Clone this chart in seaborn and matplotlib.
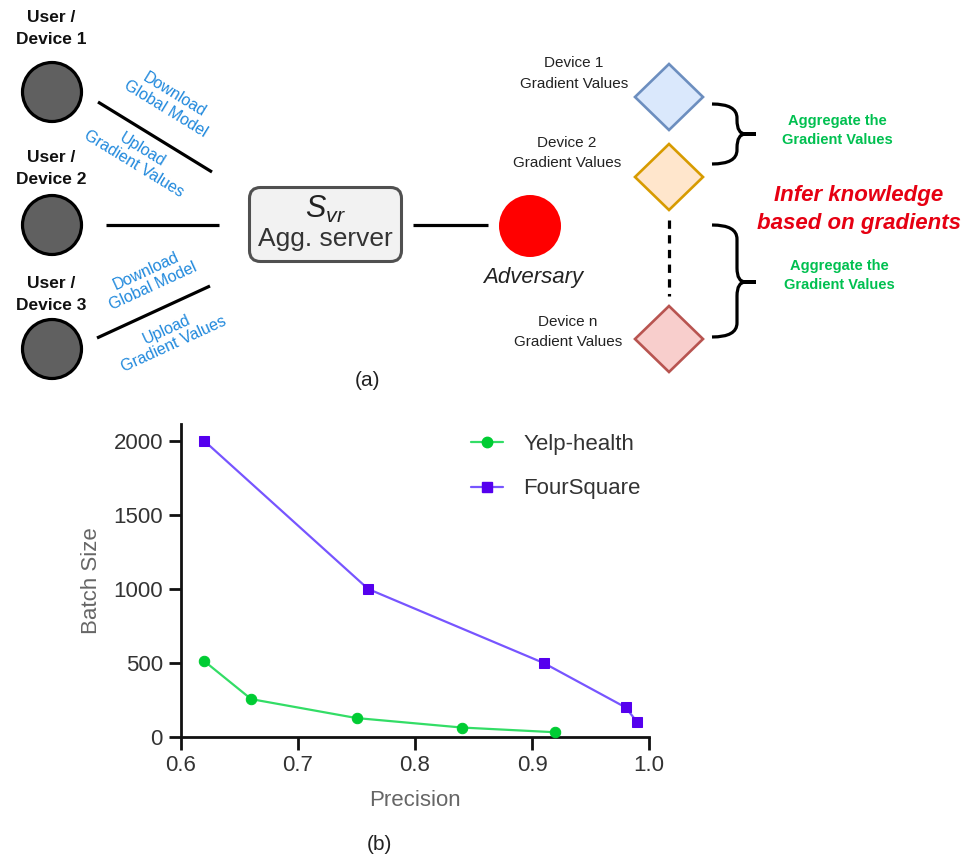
import matplotlib
matplotlib.use("Agg")
import matplotlib.pyplot as plt
import seaborn as sns
import pandas as pd
from matplotlib.patches import Circle, FancyBboxPatch, Polygon, PathPatch
from matplotlib.path import Path
from matplotlib.lines import Line2D

# ---------------- data ----------------
yelp_precision = [0.62, 0.66, 0.75, 0.84, 0.92]
yelp_batch = [512, 256, 128, 64, 32]
four_precision = [0.62, 0.76, 0.91, 0.98, 0.99]
four_batch = [2000, 1000, 500, 200, 100]
series_names = ["Yelp-health", "FourSquare"]
x_ticks = [0.6, 0.7, 0.8, 0.9, 1.0]
y_ticks = [0, 500, 1000, 1500, 2000]
x_label = "Precision"
y_label = "Batch Size"

sns.set_style("ticks")
plt.rcParams['font.family'] = ['Liberation Sans', 'DejaVu Sans']
plt.rcParams['mathtext.fontset'] = 'custom'
plt.rcParams['mathtext.rm'] = 'Liberation Sans'
plt.rcParams['mathtext.it'] = 'Liberation Sans:italic'

W, H = 967, 858
fig = plt.figure(figsize=(W / 100, H / 100), dpi=100)
fig.patch.set_facecolor("white")

# ---------------- diagram (a) in pixel coordinates ----------------
ax0 = fig.add_axes([0, 0, 1, 1])
ax0.set_xlim(0, W)
ax0.set_ylim(H, 0)
ax0.axis("off")

BLUE = "#1f88dc"
GREEN = "#00c050"
RED = "#e60012"


def two_lines(x, y1, y2, s1, s2, **kw):
    ax0.text(x, y1, s1, ha="center", va="center", **kw)
    ax0.text(x, y2, s2, ha="center", va="center", **kw)


# user devices
for cy, (y1, y2), lab in [(92, (18, 40), "1"), (225, (157, 180), "2"), (349, (283, 305), "3")]:
    ax0.add_patch(Circle((52, cy), 29.5, facecolor="#606060", edgecolor="black", lw=2.3))
    two_lines(51, y1, y2, "User /", "Device " + lab, fontsize=12.5, fontweight="bold", color="#111111")

# connection lines
ax0.plot([98, 212], [102, 172], color="black", lw=2.3, solid_capstyle="butt")
ax0.plot([106, 219], [225, 225], color="black", lw=2.3, solid_capstyle="butt")
ax0.plot([97, 210], [338, 286], color="black", lw=2.3, solid_capstyle="butt")
ax0.plot([413, 488], [225, 225], color="black", lw=2.3, solid_capstyle="butt")

# blue rotated labels
ax0.text(170, 102, "Download\nGlobal Model", rotation=-31.5, rotation_mode="anchor",
         ha="center", va="center", color=BLUE, fontsize=11.5, linespacing=1.15)
ax0.text(138, 157, "Upload\nGradient Values", rotation=-31.5, rotation_mode="anchor",
         ha="center", va="center", color=BLUE, fontsize=11.5, linespacing=1.15)
ax0.text(150, 279, "Download\nGlobal Model", rotation=24.7, rotation_mode="anchor",
         ha="center", va="center", color=BLUE, fontsize=11.5, linespacing=1.15)
ax0.text(170, 337, "Upload\nGradient Values", rotation=24.7, rotation_mode="anchor",
         ha="center", va="center", color=BLUE, fontsize=11.5, linespacing=1.15)

# aggregation server
ax0.add_patch(FancyBboxPatch((249.5, 187.5), 152, 74,
                             boxstyle="round,pad=0,rounding_size=11",
                             facecolor="#f2f2f2", edgecolor="#505050", lw=2.2))
ax0.text(325, 209, r"$S_{vr}$", ha="center", va="center", fontsize=22, color="#222222")
ax0.text(325, 239, "Agg. server", ha="center", va="center", fontsize=19, color="#333333")

# adversary
ax0.add_patch(Circle((530, 226), 31, facecolor="#ff0000", edgecolor="none"))
ax0.text(533, 278, "Adversary", ha="center", va="center", fontsize=16, style="italic", color="#222222")

# gradient diamonds
def diamond(cx, cy, fc, ec):
    ax0.add_patch(Polygon([(cx, cy - 33), (cx + 34, cy), (cx, cy + 33), (cx - 34, cy)],
                          closed=True, facecolor=fc, edgecolor=ec, lw=1.9, joinstyle="miter"))


diamond(669, 97, "#dae8fc", "#6c8ebf")
diamond(669, 177, "#ffe6cc", "#d79b00")
diamond(669, 339, "#f8cecc", "#b85450")
ax0.plot([669, 669], [220, 296], color="black", lw=2.3, linestyle=(0, (2.6, 2.0)))

two_lines(574, 63, 84, "Device 1", "Gradient Values", fontsize=11, color="#222222")
two_lines(567, 143, 163, "Device 2", "Gradient Values", fontsize=11, color="#222222")
two_lines(568, 322, 342, "Device n", "Gradient Values", fontsize=11, color="#222222")


# braces
def brace(x0, ytop, ybot, ymid, xv=737, xt=756, r=14):
    verts = [(x0, ytop), (xv, ytop), (xv, ytop + r), (xv, ymid - r), (xv, ymid), (xv + r * 0.6, ymid), (xt, ymid),
             (xt, ymid), (xv + r * 0.6, ymid), (xv, ymid), (xv, ymid + r), (xv, ybot - r), (xv, ybot), (x0, ybot)]
    codes = [Path.MOVETO, Path.CURVE3, Path.CURVE3, Path.LINETO, Path.CURVE3, Path.CURVE3, Path.LINETO,
             Path.MOVETO, Path.LINETO, Path.CURVE3, Path.CURVE3, Path.LINETO, Path.CURVE3, Path.CURVE3]
    ax0.add_patch(PathPatch(Path(verts, codes), facecolor="none", edgecolor="black", lw=2.3))


brace(712, 104, 164, 134)
brace(712, 225, 337, 282)

two_lines(837, 121, 140, "Aggregate the", "Gradient Values", fontsize=10.5, fontweight="bold", color=GREEN)
two_lines(839, 266, 285, "Aggregate the", "Gradient Values", fontsize=10.5, fontweight="bold", color=GREEN)
two_lines(859, 195, 224, "Infer knowledge", "based on gradients", fontsize=16, fontweight="bold",
          style="italic", color=RED)

ax0.text(367, 380, "(a)", ha="center", va="center", fontsize=15, color="#222222")
ax0.text(379, 844, "(b)", ha="center", va="center", fontsize=15, color="#222222")

# ---------------- chart (b) ----------------
ax = fig.add_axes([181 / W, (H - 737) / H, (649 - 181) / W, (737 - 424) / H])
ax.set_facecolor("none")

df_yelp = pd.DataFrame({"Precision": yelp_precision, "Batch Size": yelp_batch})
df_four = pd.DataFrame({"Precision": four_precision, "Batch Size": four_batch})

sns.lineplot(data=df_yelp, x="Precision", y="Batch Size", ax=ax, color="#33dd66", lw=1.6,
             marker="o", markersize=7.5, markerfacecolor="#00cc33", markeredgecolor="#00cc33",
             clip_on=False, zorder=3)
sns.lineplot(data=df_four, x="Precision", y="Batch Size", ax=ax, color="#7755ff", lw=1.6,
             marker="s", markersize=7.5, markerfacecolor="#5500ee", markeredgecolor="#5500ee",
             clip_on=False, zorder=3)

ax.set_xlim(0.6, 1.0)
ax.set_ylim(0, 2115)
ax.set_xticks(x_ticks)
ax.set_xticklabels([f"{v:.1f}" for v in x_ticks])
ax.set_yticks(y_ticks)
ax.set_yticklabels([str(v) for v in y_ticks])
ax.tick_params(axis="both", length=9, width=2, color="#111111", labelsize=16, labelcolor="#333333", pad=4)
for side in ["left", "bottom"]:
    ax.spines[side].set_linewidth(2)
    ax.spines[side].set_color("#111111")
sns.despine(ax=ax)
ax.set_xlabel(x_label, fontsize=16, color="#666666", labelpad=10)
ax.set_ylabel(y_label, fontsize=16, color="#666666", labelpad=8)

handles = [
    Line2D([], [], color="#33dd66", lw=1.6, marker="o", markersize=7.5,
           markerfacecolor="#00cc33", markeredgecolor="#00cc33"),
    Line2D([], [], color="#7755ff", lw=1.6, marker="s", markersize=7.5,
           markerfacecolor="#5500ee", markeredgecolor="#5500ee"),
]
leg = ax.legend(handles, series_names, loc="upper left", bbox_to_anchor=(471 / W, 1 - 434 / H),
                bbox_transform=fig.transFigure, frameon=False, fontsize=16, borderpad=0,
                borderaxespad=0, handlelength=1.45, handletextpad=0.9, labelspacing=1.05)
for t in leg.get_texts():
    t.set_color("#333333")

fig.savefig("out.png", dpi=100, facecolor="white")
